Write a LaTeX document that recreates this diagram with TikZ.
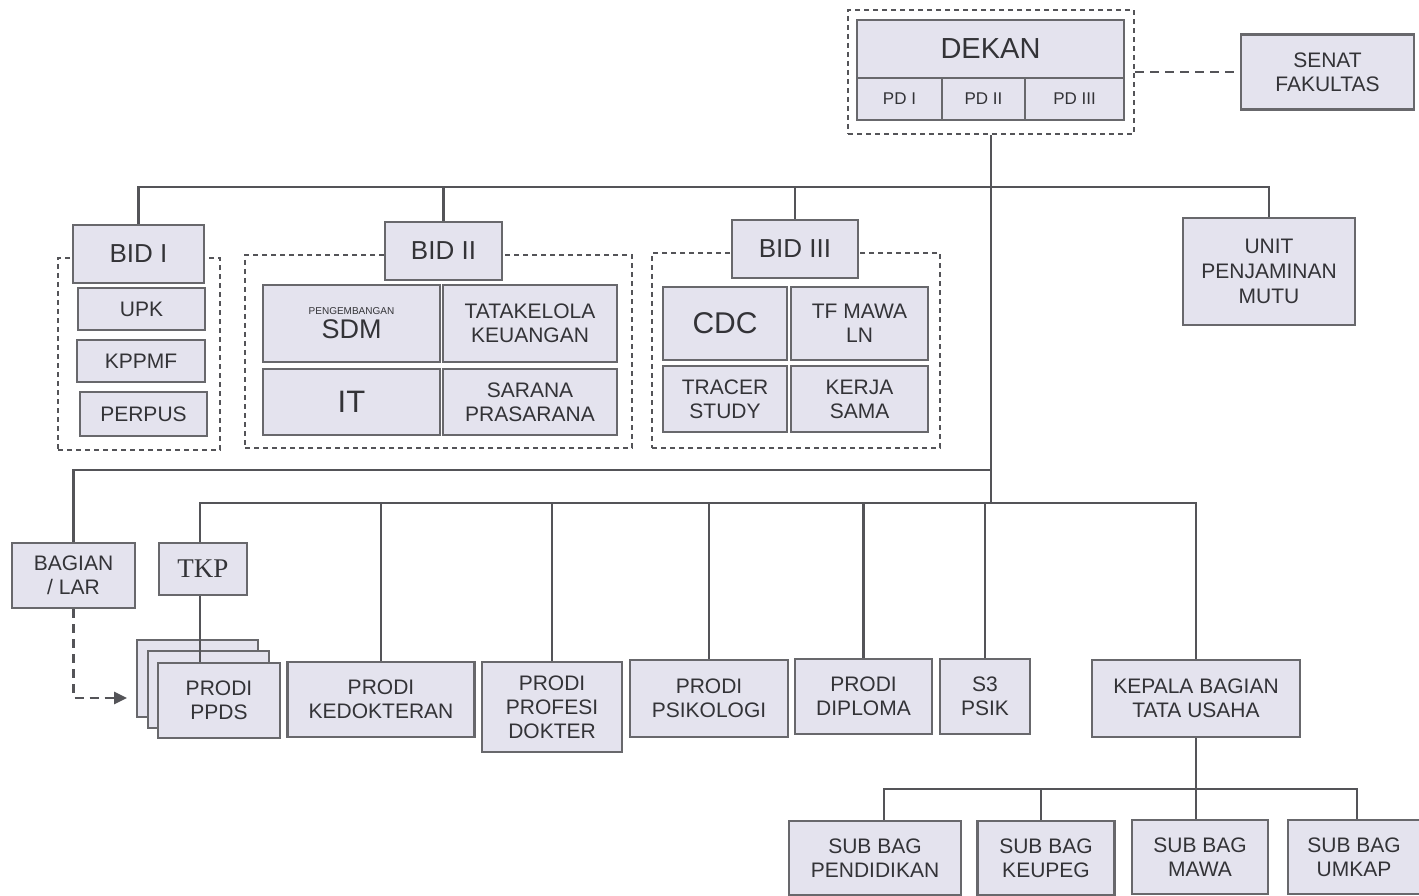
\documentclass[tikz,border=0pt]{standalone}
\usepackage{fontspec}
\setmainfont{Liberation Sans}
\newfontfamily\tkpfont{Liberation Serif}
\usetikzlibrary{arrows.meta}
\definecolor{boxfill}{HTML}{E4E3EE}
\definecolor{boxline}{HTML}{68686C}
\definecolor{txt}{HTML}{333337}
\definecolor{lin}{HTML}{545458}
\tikzset{
  box/.style={draw=boxline, fill=boxfill, line width=2.2pt, inner sep=0pt, align=center,
    text=txt, font=\fontsize{21}{24}\selectfont},
  grp/.style={draw=lin, dash pattern=on 5pt off 4pt, line width=2.2pt, inner sep=0pt, fill=none},
  conn/.style={draw=lin, line width=2.4pt},
  dconn/.style={draw=lin, line width=2.6pt, dash pattern=on 9pt off 6pt},
}
\newcommand{\bx}[6][]{\node[box,#1, minimum width=#4, minimum height=#5] (#2) at (#3) {#6};}
\begin{document}
\begin{tikzpicture}[x=1pt,y=-1pt]
\useasboundingbox[fill=white] (0,0) rectangle (1419,896);
% groups
\node[grp, minimum width=286, minimum height=124] (dekgrp) at (991,72) {};
\node[grp, minimum width=162, minimum height=192] (g1) at (139,354) {};
\node[grp, minimum width=387, minimum height=193] (g2) at (438.5,351.5) {};
\node[grp, minimum width=288, minimum height=195] (g3) at (796,350.5) {};
% top
\bx[font=\fontsize{29}{32}\selectfont]{dekan}{990.5,49}{267}{58}{DEKAN}
\bx[font=\fontsize{17}{20}\selectfont]{pd1}{899.5,99}{85}{42}{PD I}
\bx[font=\fontsize{17}{20}\selectfont]{pd2}{983.5,99}{83}{42}{PD II}
\bx[font=\fontsize{17}{20}\selectfont]{pd3}{1074.5,99}{99}{42}{PD III}
\bx{senat}{1327.5,72}{173}{75}{SENAT\\FAKULTAS}
% BID I
\bx[font=\fontsize{26}{28}\selectfont]{bid1}{138.5,254}{131}{58}{BID I}
\bx{upk}{141.5,309}{127}{42}{UPK}
\bx{kppmf}{141,361}{128}{42}{KPPMF}
\bx{perpus}{143.5,414}{127}{44}{PERPUS}
% BID II
\bx[font=\fontsize{26}{28}\selectfont]{bid2}{443.5,251}{117}{58}{BID II}
\bx{sdm}{351.5,323.5}{177}{77}{{\fontsize{10}{12}\selectfont PENGEMBANGAN}\\[0pt]{\fontsize{27}{28}\selectfont SDM}}
\bx{tata}{530,323.5}{174}{77}{TATAKELOLA\\KEUANGAN}
\bx[font=\fontsize{31}{32}\selectfont]{it}{351.5,402}{177}{66}{IT}
\bx{sarana}{530,402}{174}{66}{SARANA\\PRASARANA}
% BID III
\bx[font=\fontsize{26}{28}\selectfont]{bid3}{795,249}{126}{58}{BID III}
\bx[font=\fontsize{30}{32}\selectfont]{cdc}{725,323.5}{124}{73}{CDC}
\bx{tfmawa}{859.5,323.5}{137}{73}{TF MAWA\\LN}
\bx{tracer}{725,399}{124}{66}{TRACER\\STUDY}
\bx{kerja}{859.5,399}{137}{66}{KERJA\\SAMA}
% UNIT
\bx[font=\fontsize{21}{25}\selectfont]{unit}{1269,271.5}{172}{107}{UNIT\\PENJAMINAN\\MUTU}
% lower
\bx{bagian}{73.5,575.5}{123}{65}{BAGIAN\\/ LAR}
\bx[font=\fontsize{27}{28}\selectfont\tkpfont]{tkp}{203,569}{88}{52}{TKP}
\bx{ppdsb}{197.5,678.5}{121}{77}{}
\bx{ppdsm}{208.5,689.5}{121}{77}{}
\bx{ppds}{219,700.5}{122}{75}{PRODI\\PPDS}
\bx{kedok}{381,699.5}{187}{75}{PRODI\\KEDOKTERAN}
\bx{profesi}{552,707}{140}{90}{PRODI\\PROFESI\\DOKTER}
\bx{psik}{709,698.5}{158}{77}{PRODI\\PSIKOLOGI}
\bx{diploma}{863.5,696.5}{137}{75}{PRODI\\DIPLOMA}
\bx{s3}{985,696.5}{90}{75}{S3\\PSIK}
\bx{kbtu}{1196,698.5}{208}{77}{KEPALA BAGIAN\\TATA USAHA}
\bx{pend}{875,858}{172}{74}{SUB BAG\\PENDIDIKAN}
\bx{keupeg}{1046,858}{137}{74}{SUB BAG\\KEUPEG}
\bx{mawa}{1200,857}{136}{74}{SUB BAG\\MAWA}
\bx{umkap}{1354,857}{132}{74}{SUB BAG\\UMKAP}
% bus levels
\coordinate (bus1) at (0,187);
\coordinate (bus2) at (0,470);
\coordinate (bus3) at (0,503);
\coordinate (bus4) at (0,789);
\coordinate (arr) at (127,698);
% connectors
\draw[dconn] (dekgrp.east |- senat.west) -- (senat.west);
\draw[conn] (dekgrp.south) -- (dekgrp.south |- bus3);
\draw[conn] (bid1.north) -- (bid1.north |- bus1) -- (unit.north |- bus1) -- (unit.north);
\draw[conn] (bid2.north) -- (bid2.north |- bus1);
\draw[conn] (bid3.north) -- (bid3.north |- bus1);
\draw[conn] (bagian.north) -- (bagian.north |- bus2) -- (dekgrp.south |- bus2);
\draw[conn] ([xshift=-3pt]tkp.north) -- ([xshift=-3pt]tkp.north |- bus3) -- (kbtu.north |- bus3) -- (kbtu.north);
\draw[conn] ([xshift=-3pt]tkp.south) -- ([xshift=-3pt]tkp.south |- ppds.north);
\foreach \n in {kedok,profesi,psik,diploma,s3}{
  \draw[conn] (\n.north) -- (\n.north |- bus3);
}
\draw[dconn, -{Triangle[length=13pt,width=12pt]}] (bagian.south) |- (arr);
\draw[conn] (kbtu.south) -- (kbtu.south |- bus4);
\draw[conn] ([xshift=9pt]pend.north) -- ([xshift=9pt]pend.north |- bus4) -- ([xshift=3pt]umkap.north |- bus4) -- ([xshift=3pt]umkap.north);
\draw[conn] ([xshift=-5pt]keupeg.north) -- ([xshift=-5pt]keupeg.north |- bus4);
\draw[conn] ([xshift=-4pt]mawa.north) -- ([xshift=-4pt]mawa.north |- bus4);
\end{tikzpicture}
\end{document}
